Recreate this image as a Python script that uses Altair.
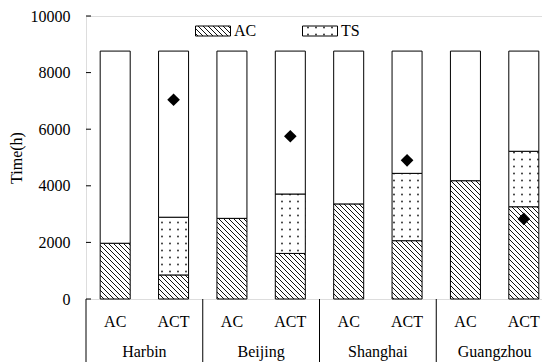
import altair as alt
import pandas as pd

cities = ["Harbin", "Beijing", "Shanghai", "Guangzhou"]
types = ["AC", "ACT"]
total_hours = 8760
ac_case_ac = [1970, 2850, 3360, 4180]      # AC system: AC hours
act_case_ac = [850, 1610, 2060, 3260]      # ACT system: AC hours
act_case_ts = [2040, 2100, 2380, 1960]     # ACT system: TS hours
diamond_vals = [7040, 5750, 4900, 2830]    # markers on ACT bars
y_ticks = [0, 2000, 4000, 6000, 8000, 10000]
segments = ["AC", "TS", "Rest"]

rows = []
for i, c in enumerate(cities):
    parts_ac = {"AC": ac_case_ac[i], "TS": 0}
    parts_act = {"AC": act_case_ac[i], "TS": act_case_ts[i]}
    for t, parts in (("AC", parts_ac), ("ACT", parts_act)):
        rest = total_hours - parts["AC"] - parts["TS"]
        for k, seg in enumerate(segments):
            v = rest if seg == "Rest" else parts[seg]
            if v > 0:
                rows.append({"city": c, "type": t, "seg": seg, "hours": v, "ord": k})
bars_df = pd.DataFrame(rows)
dia_df = pd.DataFrame({"city": cities, "type": ["ACT"] * 4, "v": diamond_vals})
labels_df = pd.DataFrame([{"city": c, "type": t} for c in cities for t in types])
city_df = pd.DataFrame({"city": cities})
ytick_df = pd.DataFrame({"v": y_ticks})

FONT = "Liberation Serif"
W, H = 467, 283

xscale = alt.Scale(domain=cities, paddingInner=0, paddingOuter=0)
oscale = alt.Scale(domain=types, paddingInner=0.486, paddingOuter=0.243)
yscale = alt.Scale(domain=[0, 10000], nice=False)
yaxis = alt.Axis(values=y_ticks, format="d", title="Time(h)", ticks=False, tickSize=0,
                 domain=False, grid=False, labelPadding=16, titlePadding=6,
                 labelFont=FONT, labelFontSize=16, labelColor="black",
                 titleFont=FONT, titleFontSize=16, titleFontWeight="normal",
                 titleColor="black")

def X(**kw):
    return alt.X("city:N", scale=xscale, axis=None, **kw)

def XO():
    return alt.XOffset("type:N", scale=oscale)

def Y(field, **kw):
    return alt.Y(field, scale=yscale, axis=yaxis, **kw)

bars = alt.Chart(bars_df).mark_bar(stroke="black", strokeWidth=1).encode(
    x=X(),
    xOffset=XO(),
    y=Y("hours:Q", stack="zero"),
    order=alt.Order("ord:Q", sort="ascending"),
    fill=alt.Fill("seg:N",
                  scale=alt.Scale(domain=segments,
                                  range=["url(#hatch)", "url(#dots)", "white"]),
                  legend=alt.Legend(values=["AC", "TS"], title=None, orient="none",
                                    legendX=109, legendY=-3, direction="horizontal",
                                    symbolType="M-1,-0.2857H1V0.2857H-1Z",
                                    symbolSize=1225, symbolStrokeColor="black",
                                    symbolStrokeWidth=1, symbolOpacity=1,
                                    labelFont=FONT, labelFontSize=16, labelColor="black",
                                    labelOffset=3, columnPadding=43, padding=0)),
)

diamonds = alt.Chart(dia_df).mark_point(shape="diamond", filled=True, color="black",
                                        size=160, opacity=1).encode(
    x=X(), xOffset=XO(),
    y=Y("v:Q"),
)

yticks = alt.Chart(ytick_df).mark_rule(color="black", strokeWidth=1).encode(
    y=Y("v:Q"),
    x=alt.value(0), x2=alt.value(5),
)

seps = alt.Chart(city_df).mark_rule(color="black", strokeWidth=1).encode(
    x=X(bandPosition=0),
    y=alt.value(H), y2=alt.value(H + 75),
)

type_text = alt.Chart(labels_df).mark_text(font=FONT, fontSize=16, baseline="alphabetic",
                                            color="black").encode(
    x=X(), xOffset=XO(), y=alt.value(H + 28), text="type:N",
)

city_text = alt.Chart(city_df).mark_text(font=FONT, fontSize=16, baseline="alphabetic",
                                          color="black").encode(
    x=X(), y=alt.value(H + 58), text="city:N",
)

chart = alt.layer(bars, diamonds, yticks, seps, type_text, city_text).properties(
    width=W, height=H, padding={"left": 0, "top": 0, "right": 0, "bottom": 0}
).configure_view(stroke="black", strokeWidth=1).configure(font=FONT)

chart.save("out.html", embed_options={"renderer": "svg", "actions": False})

# pattern fills (hatch and dots) referenced by the fill scale
defs = (
    '<style>html,body{overflow:hidden}'
    '.vega-embed svg{flex-shrink:0;max-width:none}</style>'
    '<svg width="0" height="0" style="position:absolute"><defs>'
    '<pattern id="hatch" patternUnits="userSpaceOnUse" width="5" height="5">'
    '<rect width="5" height="5" fill="white"/>'
    '<path d="M-1,-1L6,6M-1,4L1,6M4,-1L6,1" stroke="#111" stroke-width="1"/>'
    '</pattern>'
    '<pattern id="dots" patternUnits="userSpaceOnUse" width="8" height="7">'
    '<rect width="8" height="7" fill="white"/>'
    '<circle cx="4" cy="3.5" r="0.9" fill="#222"/>'
    '</pattern>'
    '</defs></svg>'
)
with open("out.html", encoding="utf-8") as f:
    html = f.read()
html = html.replace("<body>", "<body>" + defs, 1)
with open("out.html", "w", encoding="utf-8") as f:
    f.write(html)
